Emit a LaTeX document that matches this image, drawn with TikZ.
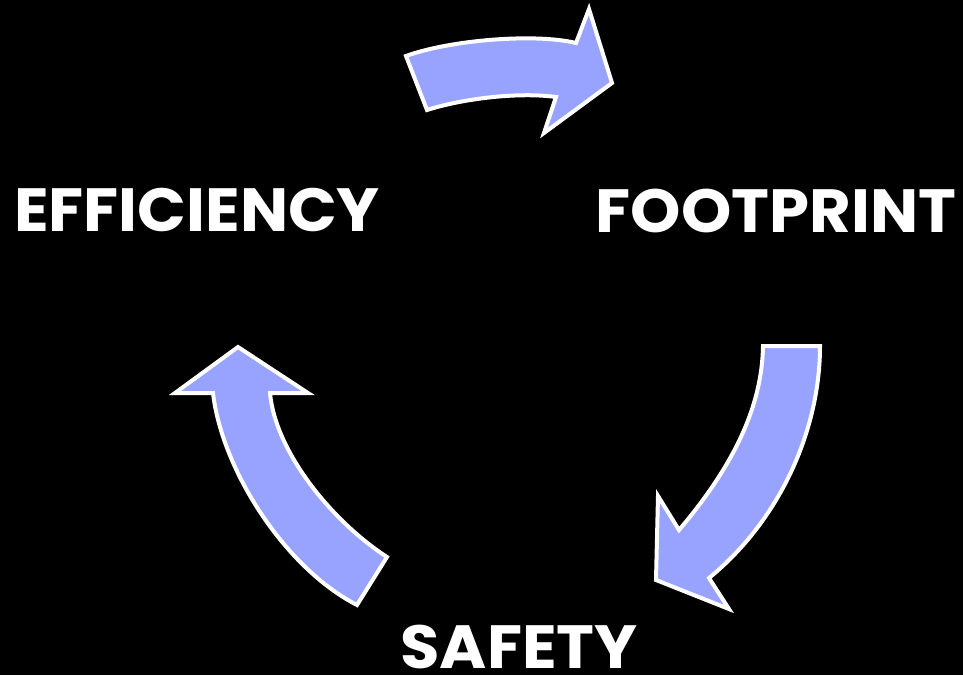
\documentclass[tikz,border=0pt]{standalone}
\usepackage{fontspec}
\setmainfont{Poppins}[FakeStretch=1.05]
\usepackage{tikz}
\definecolor{arrowblue}{HTML}{97A3FF}

\begin{document}
\begin{tikzpicture}
[x=1pt,y=-1pt,%%%%%%%%%%%%%%%%%%%%%%%%%%%%%%
bluearrow/.style={fill=arrowblue,draw=white,line width=4pt,line join=miter},
word/.style={text=white,font=\fontsize{61}{70}\selectfont\bfseries,inner sep=0pt,anchor=base},
]%%%%%%%%%%%%%%%%%%%%%%%%%%%%%%

\fill[black] (0,0) rectangle (963,675);

\node[word] (eff) at (197,231){EFFICIENCY};
\node[word] (foot) at (776,232){FOOTPRINT};
\node[word] (safe) at (519,668){SAFETY};

% top arrow
\draw[bluearrow] (406,56) .. controls (450,40) and (535,33) .. (576,43)
  -- (589,9) -- (612,83) -- (544,133) -- (556,97)
  .. controls (520,92) and (465,98) .. (427,110) -- cycle;
% right arrow
\draw[bluearrow] (763,346) -- (820,346)
  .. controls (820,430) and (780,520) .. (709,578)
  -- (729,609) -- (656,580) -- (658,496) -- (679,530)
  .. controls (730,470) and (762,410) .. cycle;
% left arrow
\draw[bluearrow] (238,347) -- (308,393) -- (270,393)
  .. controls (275,450) and (330,520) .. (387,557)
  -- (357,605)
  .. controls (285,568) and (222,470) .. (213,393)
  -- (175,393) -- cycle;
\end{tikzpicture}
\end{document}
